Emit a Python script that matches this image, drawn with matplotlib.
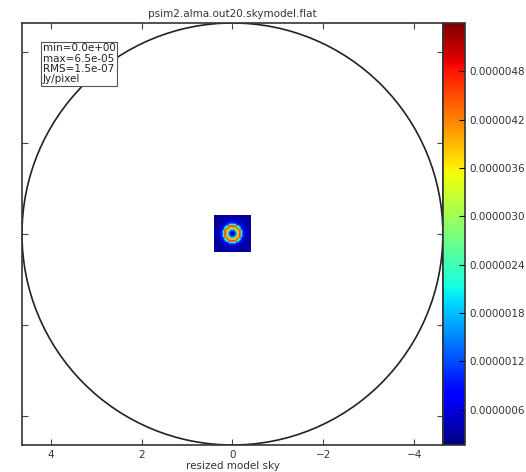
import matplotlib
matplotlib.use('Agg')
import matplotlib.pyplot as plt
from matplotlib.patches import Circle
from matplotlib.ticker import FormatStrFormatter
import numpy as np

plt.rcParams['font.family'] = 'DejaVu Sans'
plt.rcParams['font.size'] = 7.5
plt.rcParams['xtick.direction'] = 'in'
plt.rcParams['ytick.direction'] = 'in'

title = 'psim2.alma.out20.skymodel.flat'
xlabel = 'resized model sky'
stats = ['min=0.0e+00', 'max=6.5e-05', 'RMS=1.5e-07', 'Jy/pixel']

# radial brightness profile of the model source (Jy/pixel), per pixel ring
profile = [0.3e-6, 0.6e-6, 1.3e-6, 2.3e-6, 3.9e-6, 4.7e-6, 2.4e-6, 1.1e-6,
           0.7e-6, 0.5e-6, 0.4e-6, 0.35e-6, 0.3e-6, 0.3e-6, 0.3e-6,
           0.3e-6, 0.3e-6, 0.3e-6]
npix = 25
half_size = 0.4      # model image half width in plot units
field_radius = 4.63  # primary beam circle
vmin, vmax = 0.16e-6, 5.4e-6
cbar_ticks = [0.6e-6, 1.2e-6, 1.8e-6, 2.4e-6, 3.0e-6, 3.6e-6, 4.2e-6, 4.8e-6]
xticks = [4, 2, 0, -2, -4]

# build the model image from the radial profile
c = npix // 2
yy, xx = np.indices((npix, npix))
ring = np.rint(np.hypot(xx - c, yy - c)).astype(int)
img = np.array(profile)[ring]

fig = plt.figure(figsize=(5.26, 4.72), dpi=100)
ax = fig.add_axes([0.0418, 0.0572, 0.8002, 0.8941])
cax = fig.add_axes([0.8422, 0.0572, 0.0418, 0.8941])

im = ax.imshow(img, cmap='jet', vmin=vmin, vmax=vmax, origin='lower',
               interpolation='bilinear',
               extent=[half_size, -half_size, -half_size, half_size])
ax.add_patch(Circle((0, 0), field_radius, fill=False, ec='#222222', lw=1.2))
ax.set_xlim(field_radius, -field_radius)
ax.set_ylim(-field_radius, field_radius)
ax.set_aspect('auto')
ax.set_xticks(xticks)
ax.set_yticks(xticks)
ax.set_yticklabels([])
ax.tick_params(top=True, right=True, length=4, color='#444444', labelsize=7.5,
               labelcolor='#333333')
ax.set_xlabel(xlabel, fontsize=7.5, color='#333333', labelpad=1)
ax.set_title(title, fontsize=7.5, color='#333333', pad=4)
for s in ax.spines.values():
    s.set_color('#333333')
    s.set_linewidth(1.2)

ax.text(0.05, 0.952, '\n'.join(stats), transform=ax.transAxes, va='top',
        ha='left', fontsize=7.5, color='#222222', linespacing=1.05,
        bbox=dict(boxstyle='square,pad=0.15', fc='white', ec='#555555', lw=0.8))

cb = fig.colorbar(im, cax=cax)
cb.set_ticks(cbar_ticks)
cb.ax.yaxis.set_major_formatter(FormatStrFormatter('%.7f'))
cb.ax.tick_params(labelsize=7.5, labelcolor='#333333', length=4, direction='in')
cb.outline.set_linewidth(1.2)
cb.outline.set_edgecolor('#333333')

fig.savefig('out.png', dpi=100)
